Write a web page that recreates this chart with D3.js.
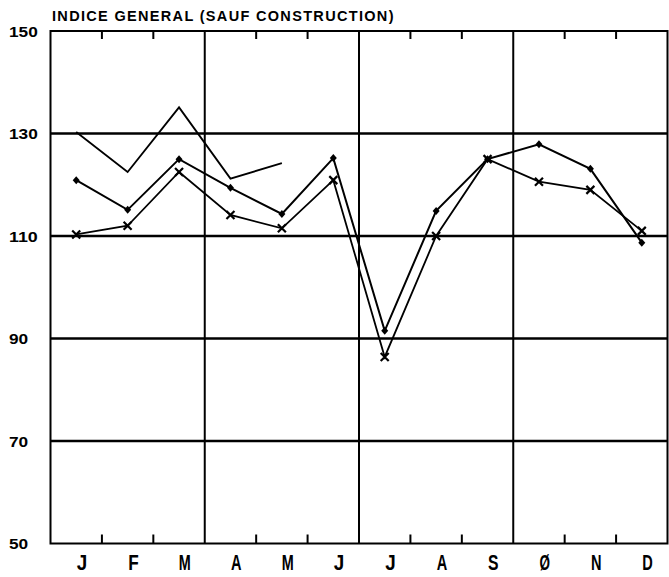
<!DOCTYPE html>
<html>
<head>
<meta charset="utf-8">
<script src="https://cdn.jsdelivr.net/npm/d3@7"></script>
<style>
  html, body { margin: 0; padding: 0; background: #fff; }
  svg { display: block; }
  text { font-family: "Liberation Sans", "DejaVu Sans", sans-serif; font-weight: bold; fill: #000; }
</style>
</head>
<body>
<script>
// ---- data ----
const title = "INDICE GENERAL (SAUF CONSTRUCTION)";
const months = ["J","F","M","A","M","J","J","A","S","Ø","N","D"];
const yTicks = [50, 70, 90, 110, 130, 150];
// plain line, no markers (January–May only)
const seriesA = [130.3, 122.5, 135.1, 121.2, 124.2, null, null, null, null, null, null, null];
// diamond markers
const seriesB = [120.9, 115.1, 125.0, 119.4, 114.3, 125.2, 91.5, 114.9, 125.0, 127.9, 123.1, 108.7];
// cross markers
const seriesC = [110.3, 112.0, 122.5, 114.1, 111.5, 120.9, 86.4, 110.0, 125.0, 120.6, 119.0, 111.0];

// ---- layout ----
const W = 669, H = 577;
const pL = 50.5, pR = 667.5, pT = 31, pB = 543.5;

const svg = d3.select("body").append("svg").attr("width", W).attr("height", H);

const x = d3.scaleBand().domain(d3.range(months.length)).range([pL, pR]).padding(0);
const y = d3.scaleLinear().domain([50, 150]).range([pB, pT]);
const cx = i => x(i) + x.bandwidth() / 2;

// horizontal grid lines
svg.append("g").selectAll("line").data(yTicks.filter(v => v > 50 && v < 150)).join("line")
  .attr("x1", pL).attr("x2", pR)
  .attr("y1", d => y(d)).attr("y2", d => y(d))
  .attr("stroke", "#000").attr("stroke-width", 2.4);

// quarter lines
svg.append("g").selectAll("line").data([3, 6, 9]).join("line")
  .attr("x1", d => x(d)).attr("x2", d => x(d))
  .attr("y1", pT).attr("y2", pB)
  .attr("stroke", "#000").attr("stroke-width", 2);

// month ticks (top & bottom), at non-quarter month boundaries
const tickIdx = d3.range(1, 12).filter(i => i % 3 !== 0);
svg.append("g").selectAll("line").data(tickIdx).join("line")
  .attr("x1", d => x(d)).attr("x2", d => x(d))
  .attr("y1", pB).attr("y2", pB - 9)
  .attr("stroke", "#000").attr("stroke-width", 2);
svg.append("g").selectAll("line").data(tickIdx).join("line")
  .attr("x1", d => x(d)).attr("x2", d => x(d))
  .attr("y1", pT).attr("y2", pT + 8)
  .attr("stroke", "#000").attr("stroke-width", 2);

// frame
svg.append("rect").attr("x", pL).attr("y", pT)
  .attr("width", pR - pL).attr("height", pB - pT)
  .attr("fill", "none").attr("stroke", "#000").attr("stroke-width", 2);

// y labels
svg.append("g").selectAll("text").data(yTicks).join("text")
  .attr("x", 9).attr("y", d => y(d) + 5.5)
  .attr("font-size", 15)
  .attr("textLength", d => String(d).length * 9.6)
  .attr("lengthAdjust", "spacingAndGlyphs")
  .text(d => d);

// month labels
svg.append("g").selectAll("text").data(months).join("text")
  .attr("x", (d, i) => cx(i) + 5.8).attr("y", 570)
  .attr("text-anchor", "middle")
  .attr("font-size", 22)
  .attr("textLength", d => d === "M" ? 12 : 10.5)
  .attr("lengthAdjust", "spacingAndGlyphs")
  .text(d => d);

// title
svg.append("text").attr("x", 52).attr("y", 21)
  .attr("font-size", 14.5)
  .attr("letter-spacing", 1.5)
  .attr("textLength", 343).attr("lengthAdjust", "spacing")
  .text(title);

// lines
const line = d3.line().defined(d => d != null).x((d, i) => cx(i)).y(d => y(d));
function drawLine(data, w) {
  svg.append("path").datum(data).attr("d", line)
    .attr("fill", "none").attr("stroke", "#000").attr("stroke-width", w)
    .attr("stroke-linejoin", "miter");
}
drawLine(seriesA, 1.8);
drawLine(seriesB, 2);
drawLine(seriesC, 1.8);

// markers: diamonds
svg.append("g").selectAll("path").data(seriesB).join("path")
  .attr("transform", (d, i) => `translate(${cx(i)},${y(d)})`)
  .attr("d", "M0,-4L3.5,0L0,4L-3.5,0Z")
  .attr("fill", "#000");
// markers: crosses
svg.append("g").selectAll("path").data(seriesC).join("path")
  .attr("transform", (d, i) => `translate(${cx(i)},${y(d)})`)
  .attr("d", "M-4,-4L4,4M-4,4L4,-4")
  .attr("fill", "none").attr("stroke", "#000").attr("stroke-width", 2.2);
</script>
</body>
</html>
